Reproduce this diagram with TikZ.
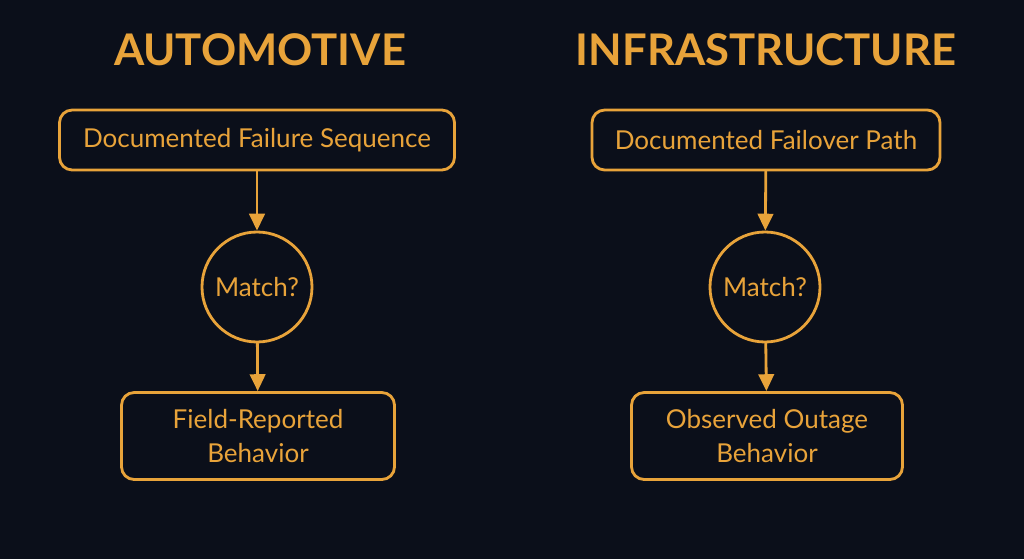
\documentclass[tikz,border=0pt]{standalone}
\usepackage{fontspec}
\setmainfont{Lato}
\usetikzlibrary{arrows.meta}
\definecolor{bgcolor}{HTML}{0B0F1A}
\definecolor{flowcolor}{HTML}{E8A33A}
\begin{document}
\begin{tikzpicture}
		[x=0.025cm,y=-0.025cm,line cap=round,
		%Styles
		title text/.style={text=flowcolor,font=\fontsize{31}{36}\selectfont\bfseries},
		step box/.style={draw=flowcolor,line width=2pt,rounded corners=9pt,text=flowcolor,
			font=\fontsize{18.5}{24}\selectfont,align=center},
		check node/.style={circle,draw=flowcolor,line width=2pt,minimum size=110*0.025cm,
			inner sep=0pt,text=flowcolor,font=\fontsize{18.5}{24}\selectfont},
		flow arrow/.style={-{Triangle[length=12pt,width=11pt,fill=flowcolor]},draw=flowcolor,line width=2pt}
		]
		
		\fill[bgcolor] (0,0) rectangle (1024,559);
		
		%Automotive
		\node[title text] (T1) at (260,50) {AUTOMOTIVE};
		\node[step box,minimum width=395*0.025cm,minimum height=60*0.025cm] (A1) at (257,140) {Documented Failure Sequence};
		\node[check node] (A2) at (257,287) {Match?};
		\node[step box,minimum width=273*0.025cm,minimum height=87*0.025cm] (A3) at (258,436) {Field-Reported\\Behavior};
		
		%Infrastructure
		\node[title text] (T2) at (766,50) {INFRASTRUCTURE};
		\node[step box,minimum width=348*0.025cm,minimum height=60*0.025cm] (B1) at (766,140) {Documented Failover Path};
		\node[check node] (B2) at (765,287) {Match?};
		\node[step box,minimum width=271*0.025cm,minimum height=87*0.025cm] (B3) at (767,436) {Observed Outage\\Behavior};
		
		\path[flow arrow]
			(A1)	edge	(A2)
			(A2)	edge	(A3)
			(B1)	edge	(B2)
			(B2)	edge	(B3);
	\end{tikzpicture}
\end{document}
